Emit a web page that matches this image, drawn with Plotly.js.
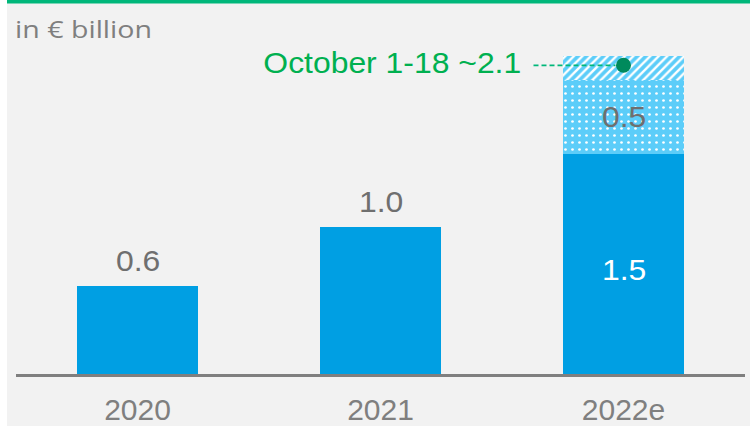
<!DOCTYPE html>
<html>
<head>
<meta charset="utf-8">
<script src="https://cdn.plot.ly/plotly-3.0.1.min.js"></script>
<style>
  html, body { margin: 0; padding: 0; background: #ffffff; width: 750px; height: 426px; overflow: hidden; }
  #chart { position: absolute; left: 7px; top: 0; width: 743px; height: 426px; }
</style>
</head>
<body>
<div id="chart"></div>
<script>
// ---- data ----
const years = ["2020", "2021", "2022e"];
const baseValues = [0.6, 1.0, 1.5];
const estimateValues = [0, 0, 0.5];
const octoberExtraValues = [0, 0, 0.16];
const octoberYear = "2022e";
const octoberValue = 2.1;
const octoberLabel = "October 1-18 ~2.1";
const unitLabel = "in € billion";
const baseLabels = ["0.6", "1.0", "1.5"];
const estimateLabels = ["", "", "0.5"];

// ---- styles ----
const blue = "#009fe3";
const lightBlue = "#5ccdf9";
const green = "#00b77a";
const darkGreen = "#008a5c";
const grey = "#7f7f7f";
const labelGrey = "#6f6f6f";
const font = "Liberation Sans";

const traces = [
  {
    type: "bar", x: years, y: baseValues,
    marker: { color: blue, line: { width: 0 } },
    hoverinfo: "skip"
  },
  {
    type: "bar", x: years, y: estimateValues,
    marker: {
      color: lightBlue, line: { width: 0 },
      pattern: { shape: ".", bgcolor: lightBlue, fgcolor: "#ffffff", fgopacity: 1, size: 7, solidity: 0.12 }
    },
    hoverinfo: "skip"
  },
  {
    type: "bar", x: years, y: octoberExtraValues,
    marker: {
      color: lightBlue, line: { width: 0 },
      pattern: { shape: "/", bgcolor: lightBlue, fgcolor: "#ffffff", fgopacity: 1, size: 6, solidity: 0.4 }
    },
    hoverinfo: "skip"
  },
  {
    type: "scatter", mode: "markers", x: [octoberYear], y: [octoberValue],
    marker: { color: darkGreen, size: 15 },
    hoverinfo: "skip"
  }
];

const annotations = [];
years.forEach((yr, i) => {
  const stacked = estimateValues[i] > 0;
  if (stacked) {
    annotations.push({ x: i, y: baseValues[i] / 2, text: baseLabels[i], showarrow: false,
      yshift: -6, font: { family: font, size: 29, color: "#ffffff" } });
    annotations.push({ x: i, y: baseValues[i] + estimateValues[i] / 2, text: estimateLabels[i], showarrow: false,
      font: { family: font, size: 29, color: labelGrey } });
  } else {
    annotations.push({ x: i, y: baseValues[i], text: baseLabels[i], showarrow: false,
      yanchor: "middle", yshift: 25, font: { family: font, size: 29, color: labelGrey } });
  }
});
annotations.push({ x: years.indexOf(octoberYear), y: octoberValue, text: octoberLabel, showarrow: false,
  xanchor: "right", xshift: -112, yshift: 2, font: { family: font, size: 29, color: "#00b050" } });
annotations.push({ xref: "paper", yref: "paper", x: 0, y: 0.9746, xanchor: "left", yanchor: "middle",
  xshift: 8, text: unitLabel, showarrow: false, font: { family: "Open Sans", size: 24, color: grey } });

const plotH = 354;
const pxPerUnit = 147;
const catPx = 243;

const layout = {
  width: 743, height: 426,
  margin: { l: 9, r: 5, t: 20, b: 52 },
  paper_bgcolor: "#f2f2f2", plot_bgcolor: "#f2f2f2",
  barmode: "stack", bargap: 0.5,
  showlegend: false,
  xaxis: {
    type: "category", categoryorder: "array", categoryarray: years,
    range: [-0.5, years.length - 0.5],
    showgrid: false, zeroline: false,
    showline: true, linecolor: grey, linewidth: 2.5,
    ticks: "", tickfont: { family: font, size: 30, color: grey },
    ticklabelstandoff: 7
  },
  yaxis: {
    range: [0, plotH / pxPerUnit], showgrid: false, zeroline: false,
    showticklabels: false, showline: false, ticks: ""
  },
  shapes: [
    { type: "rect", xref: "paper", yref: "paper", x0: -0.02, x1: 1.02, y0: 1.0466, y1: 1.07,
      fillcolor: "#00b77a", line: { width: 0 }, layer: "above" },
    { type: "line", xref: "x", yref: "y", x0: 2 - 90 / catPx, x1: 2 - 8 / catPx,
      y0: octoberValue, y1: octoberValue, line: { color: green, width: 1.8, dash: "5px,3px" } }
  ],
  annotations: annotations
};

Plotly.newPlot("chart", traces, layout, { staticPlot: true, displayModeBar: false }).then(() => {
  // the reference's lettering is slightly wider than Arial: stretch horizontally about each text's centre
  document.querySelectorAll("#chart .annotation-text").forEach(t => {
    const isUnit = t.textContent === unitLabel;
    t.style.transformBox = "fill-box";
    t.style.transformOrigin = "center center";
    t.style.transform = "scaleX(" + (isUnit ? 1.19 : 1.1) + ")";
  });
});
</script>
</body>
</html>
